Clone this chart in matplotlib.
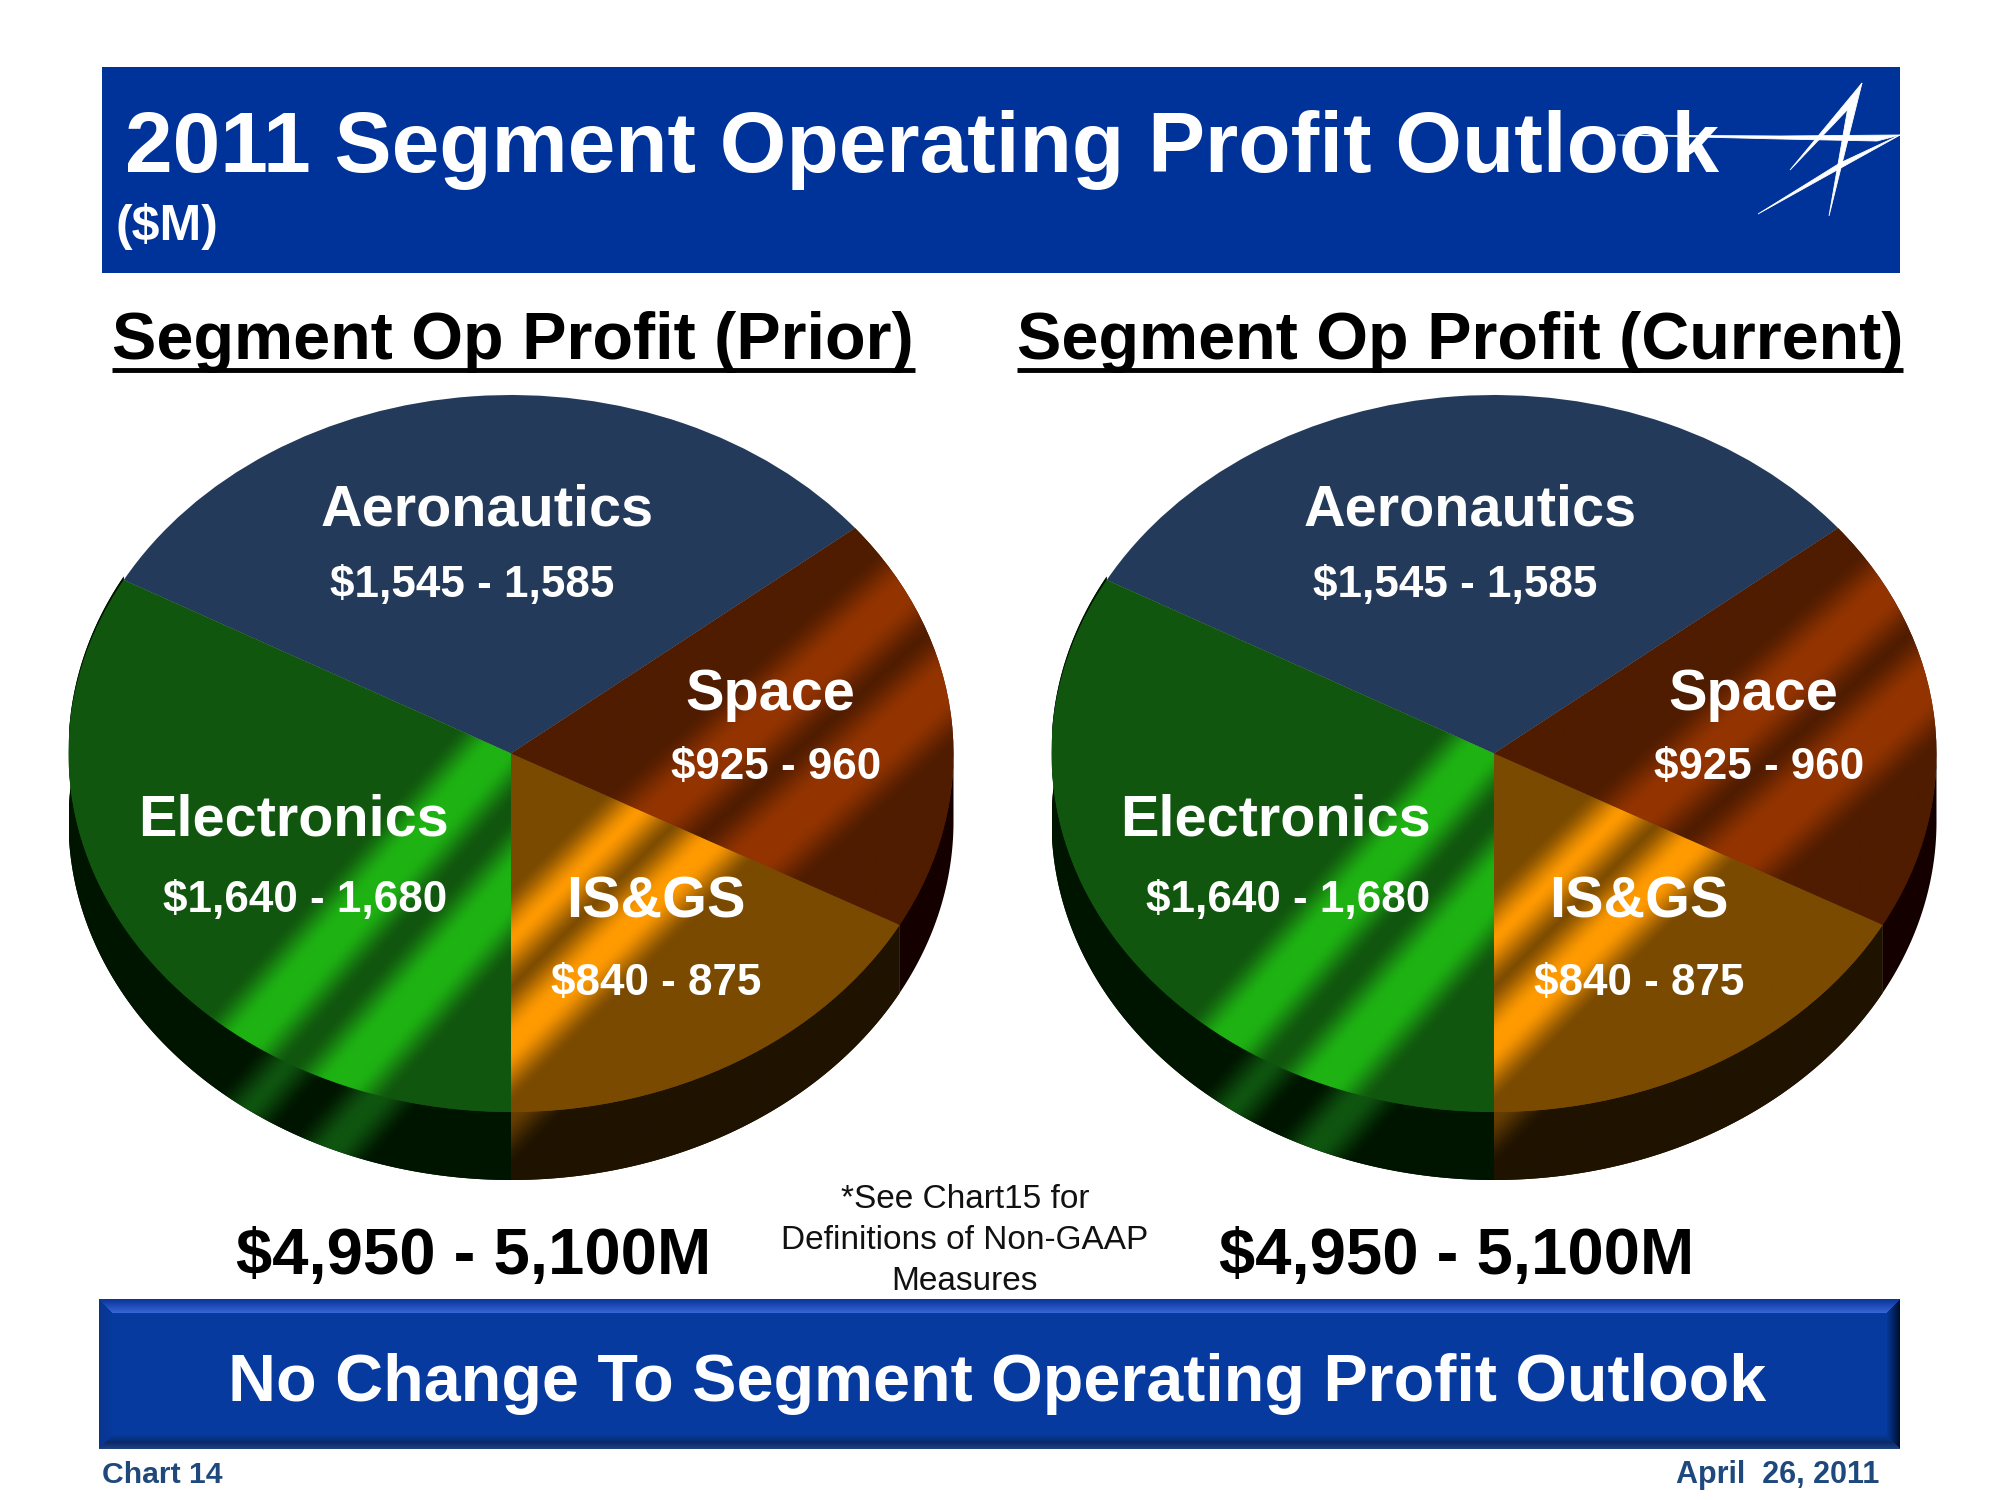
import numpy as np
from matplotlib import pyplot as plt
from matplotlib import colors as mc
from matplotlib.patches import Polygon, Rectangle

# segment data, pie goes counter clockwise from straight down
segments = ['IS&GS', 'Space', 'Aeronautics', 'Electronics']
low = [840, 925, 1545, 1640]
high = [875, 960, 1585, 1680]
ranges = ['$840 - 875', '$925 - 960', '$1,545 - 1,585', '$1,640 - 1,680']
totals = ['$4,950 - 5,100M', '$4,950 - 5,100M']
pie_titles = ['Segment Op Profit (Prior)', 'Segment Op Profit (Current)']
pie_values = (np.array(low) + np.array(high)) / 2

plt.rcParams['font.family'] = ['Liberation Sans', 'DejaVu Sans']
W, H = 2000, 1500
BLUE = '#003399'

# colours and light bands (u = slope*x + y in pixels of the left pie)
top_col = [('#7a4a00', '#ff9a00'), ('#4f1c00', '#933400'), ('#243a5a', '#243a5a'), ('#11560e', '#1eb313')]
side_col = [('#1f1300', '#6a4000'), ('#150000', '#150000'), ('#101010', '#101010'), ('#001500', '#0f5510')]
slopes = [1.0, 0.9, 1.0, 1.15]
top_bands = [[(1450, 26), (1554, 34)], [(1405, 38), (1535, 43)], [], [(1322, 42), (1474, 44)]]
side_bands = [[(1625, 26)], [], [], [(1395, 26), (1530, 32)]]


def band_image(bands, cols, slope, px, py):
    amt = np.zeros_like(px)
    u = slope * px + py
    for c, hw in bands:
        a = np.clip((hw + 28 - np.abs(u - c)) / 56, 0, 1)
        amt = np.maximum(amt, a * a * (3 - 2 * a))
    c0 = np.array(mc.to_rgb(cols[0]))
    c1 = np.array(mc.to_rgb(cols[1]))
    return c0 + (c1 - c0) * amt[..., None]


def draw_pie(cx, cy=753.5, rx=442.5, ry=358.5, depth=68):
    d = depth / ry
    ax = fig.add_axes([(cx - rx) / W, 1 - (cy + ry + depth) / H, 2 * rx / W, (2 * ry + depth) / H])
    wedges, _ = ax.pie(pie_values, startangle=-90, colors=[c[0] for c in top_col], wedgeprops={'linewidth': 0})
    ext = (-1, 1, -1 - d, 1)
    gx, gy = np.meshgrid(np.linspace(-1, 1, 900), np.linspace(-1 - d, 1, 760))
    px = 511 + rx * gx
    py = cy - ry * gy
    for i, w in enumerate(wedges):
        w.set_zorder(3)
        if top_bands[i]:
            im = ax.imshow(band_image(top_bands[i], top_col[i], slopes[i], px, py), extent=ext, origin='lower', aspect='auto', zorder=4)
            im.set_clip_path(w)
        # side wall, only the part of the rim facing down
        t1, t2 = max(w.theta1, -180), min(w.theta2, 0)
        if w.theta2 > 180:
            t1, t2 = w.theta1 - 360, min(w.theta2 - 360, 0)
        if t2 <= t1:
            continue
        t = np.radians(np.linspace(t1, t2, 120))
        xy = np.r_[np.c_[np.cos(t), np.sin(t) + 0.01], np.c_[np.cos(t), np.sin(t) - d][::-1]]
        side = Polygon(xy, closed=True, fc=side_col[i][0], lw=0, zorder=1)
        ax.add_patch(side)
        if side_bands[i]:
            im = ax.imshow(band_image(side_bands[i], side_col[i], slopes[i], px, py), extent=ext, origin='lower', aspect='auto', zorder=2)
            im.set_clip_path(side)
    ax.set_aspect('auto')
    ax.set_xlim(-1, 1)
    ax.set_ylim(-1 - d, 1)
    ax.axis('off')


def bevel_image(w, h, b=14):
    yy, xx = np.mgrid[0:h, 0:w]
    dt, db, dl, dr = yy, h - 1 - yy, xx, w - 1 - xx
    near = np.min([dt, db, dl, dr], axis=0)
    img = np.ones((h, w, 3)) * mc.to_rgb('#063a9f')
    mix = lambda a, c1, c2: np.array(mc.to_rgb(c1)) + (np.array(mc.to_rgb(c2)) - np.array(mc.to_rgb(c1))) * a[..., None]
    top = (near < b) & (dt == near)
    bot = (near < b) & (db == near) & ~top
    rgt = (near < b) & (dr == near) & ~top & ~bot
    lft = (near < b) & (dl == near) & ~top & ~bot
    img[top] = mix(dt / (b - 1), '#0a359a', '#3565d5')[top]
    img[bot] = mix(np.clip(db / 6, 0, 1), '#1f4080', '#0a2a68')[bot]
    sel = bot & (db > 6)
    img[sel] = mix((db - 6) / 8, '#0a2a68', '#063a9f')[sel]
    img[rgt] = mix(dr / (b - 1), '#00102e', '#063a9f')[rgt]
    img[lft] = mix(dl / (b - 1), '#0a358e', '#063a9f')[lft]
    return img


fig = plt.figure(figsize=(20, 15), dpi=100)
bg = fig.add_axes([0, 0, 1, 1])

# header band
bg.add_patch(Rectangle((102, 67), 1798, 206, fc=BLUE, lw=0))
# logo
logo = [[(1617, 135), (1780, 136), (1900, 135), (1877, 141), (1780, 139)],
        [(1900, 135), (1758, 214), (1840, 163)],
        [(1862, 83), (1790, 170), (1850, 107)],
        [(1862, 83), (1829, 216), (1848, 107)]]
for p in logo:
    bg.add_patch(Polygon(p, closed=True, fc='white', ec='white', lw=0.6, zorder=6))
bg.text(125, 172, '2011 Segment Operating Profit Outlook', color='white', fontsize=61.7, fontweight='bold', ha='left', va='baseline', zorder=5)
bg.text(115, 240, '($M)', color='white', fontsize=36, fontweight='bold', ha='left', va='baseline')

# bottom band with bevel
bg.imshow(bevel_image(1801, 150), extent=(99, 1900, 1449, 1299), aspect='auto', zorder=1)
bg.set_xlim(0, W)
bg.set_ylim(H, 0)
bg.axis('off')
bg.text(997, 1401, 'No Change To Segment Operating Profit Outlook', color='white', fontsize=47.8, fontweight='bold', ha='center', va='baseline', zorder=5)

# footer
bg.text(102, 1483, 'Chart 14', color='#1f497d', fontsize=21.7, fontweight='bold', ha='left', va='baseline')
bg.text(1879, 1483, 'April  26, 2011', color='#1f497d', fontsize=22, fontweight='bold', ha='right', va='baseline')

# footnote
for line, y in zip(['*See Chart15 for', 'Definitions of Non-GAAP', 'Measures'], [1208, 1249, 1290]):
    bg.text(965, y, line, color='#111111', fontsize=24, ha='center', va='baseline')

# the two pies
offset = 983
title_x = [112, 1017]
rule_end = [915, 1903]
for k, cx in enumerate([511, 511 + offset]):
    draw_pie(cx)
    bg.text(title_x[k], 359, pie_titles[k], color='black', fontsize=47.9, fontweight='bold', ha='left', va='baseline')
    bg.plot([title_x[k], rule_end[k]], [370, 370], color='black', lw=3.5, solid_capstyle='butt')
    bg.text(474 + offset * k, 1274, totals[k], color='black', fontsize=47, fontweight='bold', ha='center', va='baseline')

labels = fig.add_axes([0, 0, 1, 1], zorder=10)
labels.set_xlim(0, W)
labels.set_ylim(H, 0)
labels.axis('off')
name_pos = [(656, 917), (770, 710), (487, 526), (293, 835)]
val_pos = [(656, 995), (776, 779), (472, 597), (305, 912)]
for k in range(2):
    for i in range(4):
        labels.text(name_pos[i][0] + offset * k, name_pos[i][1], segments[i], color='white', fontsize=41.5, fontweight='bold', ha='center', va='baseline')
        labels.text(val_pos[i][0] + offset * k, val_pos[i][1], ranges[i], color='white', fontsize=31.7, fontweight='bold', ha='center', va='baseline')

fig.savefig('out.png', dpi=100, facecolor='white')
